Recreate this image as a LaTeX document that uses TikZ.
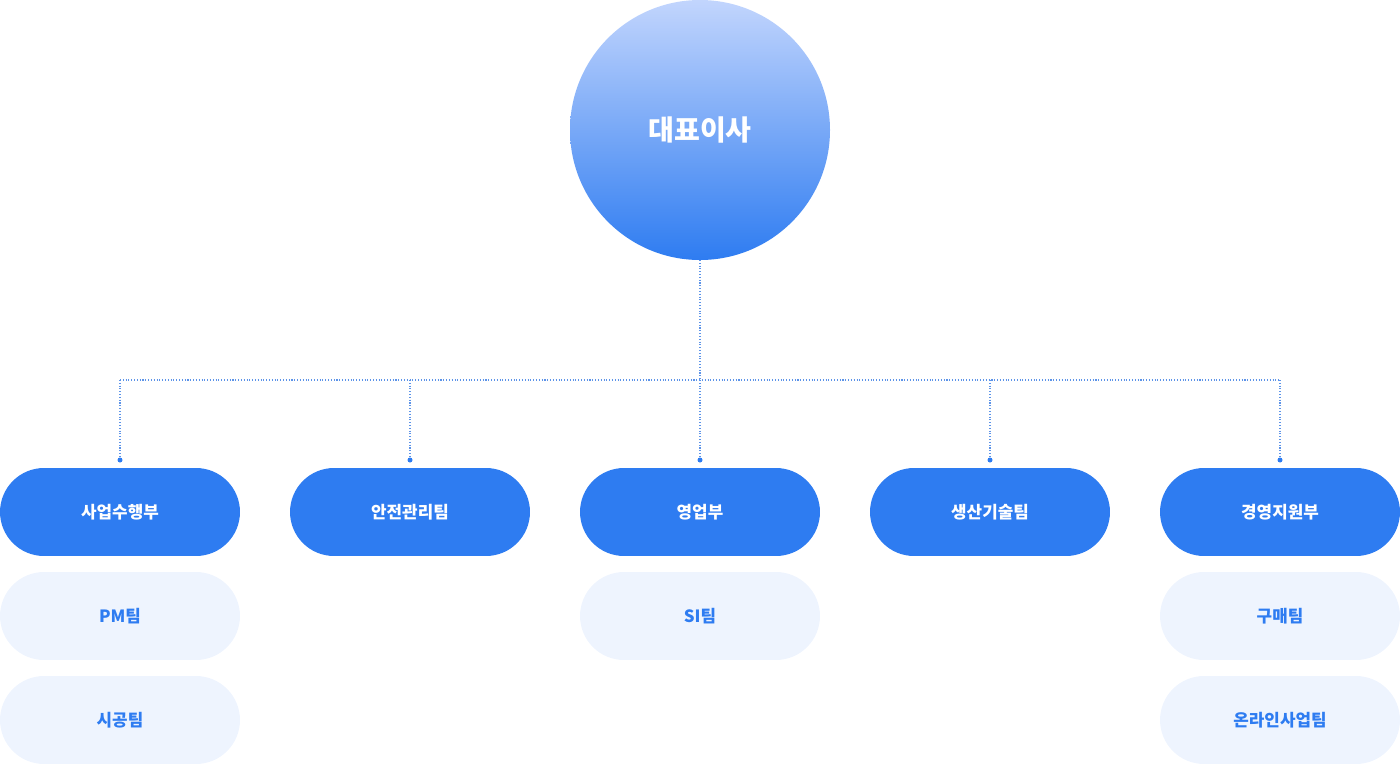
\documentclass[tikz,border=0pt]{standalone}
\usepackage{fontspec}
\setmainfont{Noto Sans CJK KR}
\usetikzlibrary{shadings}
\definecolor{mainblue}{HTML}{2E7CF1}
\definecolor{lightblue}{HTML}{C2D5FD}
\definecolor{paleblue}{HTML}{EEF4FE}
\definecolor{lineblue}{HTML}{5C93E8}
\begin{document}
\begin{tikzpicture}[x=0.02cm,y=-0.02cm,
	dept/.style = {rounded corners=0.88cm, fill=mainblue, minimum width=4.8cm,
		minimum height=1.76cm, text=white, font=\fontsize{9.6}{11}\selectfont\bfseries},
	team/.style = {rounded corners=0.88cm, fill=paleblue, minimum width=4.8cm,
		minimum height=1.76cm, text=mainblue, font=\fontsize{9.6}{11}\selectfont\bfseries},
	link/.style = {draw=lineblue, densely dotted, line width=0.6pt}]
	\useasboundingbox (0,0) rectangle (1400,764);
	\shade[top color=lightblue, bottom color=mainblue] (700,130) circle (130);
	\node (ceo) at (700,130) [text=white, font=\fontsize{16}{18}\selectfont\bfseries] {대표이사};
	% departments
	\node[dept] (d1) at (120,512) {사업수행부};
	\node[dept] (d2) at (410,512) {안전관리팀};
	\node[dept] (d3) at (700,512) {영업부};
	\node[dept] (d4) at (990,512) {생산기술팀};
	\node[dept] (d5) at (1280,512) {경영지원부};
	% teams
	\node[team] (t1) at (120,616) {PM팀};
	\node[team] (t2) at (120,720) {시공팀};
	\node[team] (t3) at (700,616) {SI팀};
	\node[team] (t4) at (1280,616) {구매팀};
	\node[team] (t5) at (1280,720) {온라인사업팀};
	% links
	\coordinate (hub) at (700,380);
	\draw[link] (700,260) -- (hub);
	\draw[link] (120,380) -- (1280,380);
	\foreach \x in {120,410,700,990,1280} {
		\draw[link] (\x,380) -- (\x,460);
		\fill[mainblue] (\x,460) circle (2.5);
	}
\end{tikzpicture}
\end{document}
